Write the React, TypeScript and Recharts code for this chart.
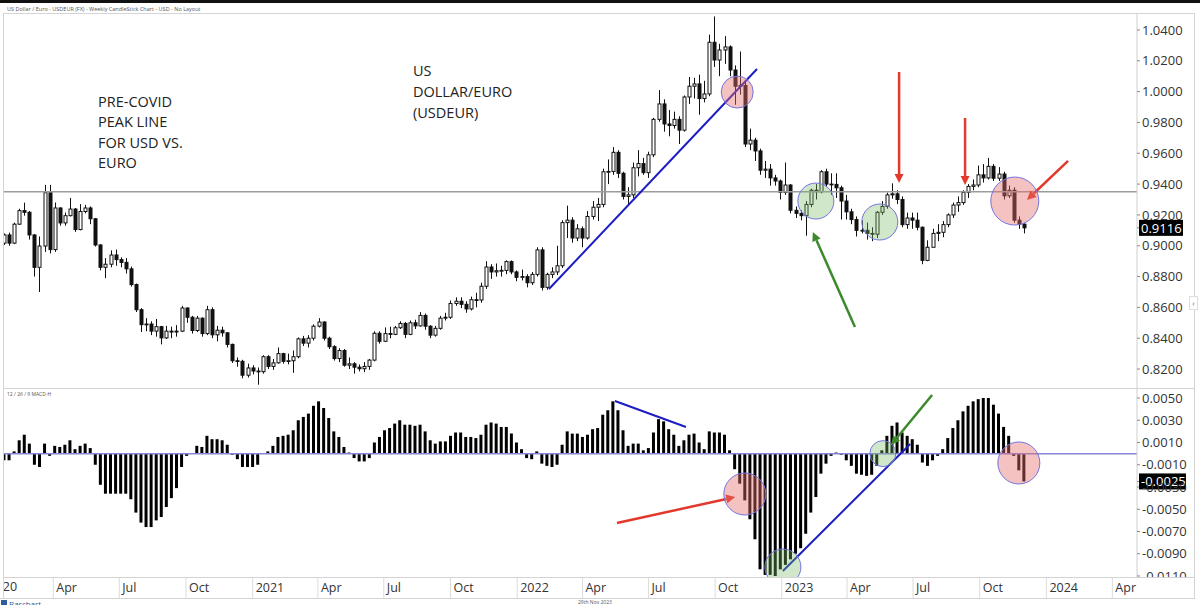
import React from 'react';
import { ComposedChart, Bar, XAxis, YAxis, ReferenceLine, ReferenceDot } from 'recharts';

const DAY = 86400000;
const WEEK = 7 * DAY;
const firstWeek = Date.UTC(2020, 0, 24);
const xMin = firstWeek;
const xMax = firstWeek + 1563 * DAY;

// weekly USD/EUR candles, Jan 24 2020 .. Dec 1 2023
const opens = [
  0.9017, 0.9070, 0.9017, 0.9140, 0.9228, 0.9217, 0.9070, 0.8860, 0.8998, 0.9344,
  0.8975, 0.9245, 0.9148, 0.9195, 0.9238, 0.9105, 0.9222, 0.9245, 0.9175, 0.9005,
  0.8860, 0.8880, 0.8940, 0.8910, 0.8892, 0.8850, 0.8748, 0.8585, 0.8488, 0.8492,
  0.8446, 0.8475, 0.8402, 0.8446, 0.8440, 0.8446, 0.8596, 0.8536, 0.8450, 0.8530,
  0.8430, 0.8585, 0.8422, 0.8452, 0.8435, 0.8360, 0.8254, 0.8250, 0.8160, 0.8207,
  0.8187, 0.8183, 0.8280, 0.8217, 0.8240, 0.8300, 0.8250, 0.8254, 0.8280, 0.8396,
  0.8368, 0.8400, 0.8478, 0.8505, 0.8400, 0.8345, 0.8268, 0.8320, 0.8225, 0.8234,
  0.8212, 0.8202, 0.8217, 0.8258, 0.8432, 0.8380, 0.8430, 0.8425, 0.8468, 0.8496,
  0.8425, 0.8500, 0.8480, 0.8548, 0.8478, 0.8420, 0.8464, 0.8530, 0.8536, 0.8625,
  0.8640, 0.8620, 0.8590, 0.8650, 0.8648, 0.8737, 0.8862, 0.8830, 0.8838, 0.8840,
  0.8897, 0.8830, 0.8795, 0.8800, 0.8760, 0.8814, 0.8973, 0.8730, 0.8814, 0.8830,
  0.8870, 0.9150, 0.9166, 0.9050, 0.9110, 0.9050, 0.9190, 0.9250, 0.9268, 0.9480,
  0.9482, 0.9606, 0.9470, 0.9320, 0.9330, 0.9506, 0.9533, 0.9474, 0.9590, 0.9820,
  0.9920, 0.9790, 0.9780, 0.9820, 0.9750, 0.9965, 1.0035, 1.0050, 0.9955, 0.9985,
  1.0320, 1.0205, 1.0270, 1.0290, 1.0140, 1.0035, 1.0040, 0.9660, 0.9685, 0.9615,
  0.9490, 0.9497, 0.9440, 0.9420, 0.9346, 0.9394, 0.9230, 0.9210, 0.9195, 0.9268,
  0.9360, 0.9350, 0.9480, 0.9400, 0.9398, 0.9376, 0.9290, 0.9220, 0.9170, 0.9100,
  0.9100, 0.9080, 0.9075, 0.9217, 0.9255, 0.9330, 0.9337, 0.9300, 0.9137, 0.9180,
  0.9166, 0.9120, 0.8905, 0.8990, 0.9080, 0.9087, 0.9137, 0.9200, 0.9264, 0.9280,
  0.9346, 0.9385, 0.9394, 0.9460, 0.9440, 0.9515, 0.9438, 0.9465, 0.9324, 0.9360,
  0.9166, 0.9140,
];

const highs = [
  0.9080, 0.9085, 0.9150, 0.9240, 0.9280, 0.9225, 0.9075, 0.9060, 0.9395, 0.9395,
  0.9280, 0.9250, 0.9215, 0.9310, 0.9245, 0.9270, 0.9265, 0.9255, 0.9180, 0.9010,
  0.8920, 0.8970, 0.8975, 0.8925, 0.8920, 0.8865, 0.8755, 0.8595, 0.8530, 0.8510,
  0.8525, 0.8480, 0.8480, 0.8475, 0.8485, 0.8610, 0.8600, 0.8545, 0.8545, 0.8535,
  0.8610, 0.8600, 0.8480, 0.8475, 0.8440, 0.8365, 0.8275, 0.8260, 0.8235, 0.8225,
  0.8210, 0.8290, 0.8290, 0.8265, 0.8340, 0.8305, 0.8300, 0.8320, 0.8405, 0.8415,
  0.8420, 0.8490, 0.8530, 0.8510, 0.8410, 0.8355, 0.8335, 0.8330, 0.8275, 0.8245,
  0.8230, 0.8245, 0.8265, 0.8445, 0.8445, 0.8470, 0.8475, 0.8480, 0.8510, 0.8505,
  0.8515, 0.8520, 0.8570, 0.8560, 0.8485, 0.8480, 0.8545, 0.8565, 0.8645, 0.8665,
  0.8665, 0.8640, 0.8670, 0.8695, 0.8760, 0.8900, 0.8880, 0.8885, 0.8870, 0.8905,
  0.8905, 0.8840, 0.8845, 0.8815, 0.8830, 0.8990, 0.8990, 0.8825, 0.8860, 0.9000,
  0.9165, 0.9260, 0.9185, 0.9140, 0.9125, 0.9225, 0.9290, 0.9310, 0.9500, 0.9560,
  0.9640, 0.9620, 0.9480, 0.9380, 0.9540, 0.9620, 0.9570, 0.9610, 0.9830, 1.0010,
  0.9950, 0.9880, 0.9870, 0.9840, 0.9975, 1.0095, 1.0090, 1.0110, 1.0070, 1.0370,
  1.0488, 1.0310, 1.0360, 1.0300, 1.0170, 1.0260, 1.0070, 0.9760, 0.9700, 0.9630,
  0.9550, 0.9530, 0.9460, 0.9430, 0.9540, 0.9400, 0.9255, 0.9230, 0.9290, 0.9370,
  0.9400, 0.9490, 0.9500, 0.9470, 0.9470, 0.9390, 0.9330, 0.9240, 0.9190, 0.9165,
  0.9150, 0.9120, 0.9225, 0.9290, 0.9345, 0.9405, 0.9360, 0.9320, 0.9215, 0.9215,
  0.9215, 0.9125, 0.9035, 0.9110, 0.9140, 0.9160, 0.9210, 0.9280, 0.9320, 0.9360,
  0.9400, 0.9430, 0.9520, 0.9530, 0.9570, 0.9530, 0.9510, 0.9480, 0.9390, 0.9380,
  0.9190, 0.9145,
];

const lows = [
  0.9005, 0.9000, 0.9010, 0.9135, 0.9195, 0.9040, 0.8800, 0.8700, 0.8960, 0.8950,
  0.8960, 0.9130, 0.9130, 0.9190, 0.9090, 0.9100, 0.9210, 0.9140, 0.8995, 0.8840,
  0.8790, 0.8860, 0.8870, 0.8860, 0.8820, 0.8735, 0.8570, 0.8440, 0.8445, 0.8420,
  0.8410, 0.8360, 0.8395, 0.8400, 0.8410, 0.8440, 0.8500, 0.8430, 0.8440, 0.8410,
  0.8420, 0.8400, 0.8380, 0.8410, 0.8340, 0.8240, 0.8215, 0.8140, 0.8145, 0.8165,
  0.8098, 0.8170, 0.8200, 0.8195, 0.8235, 0.8235, 0.8230, 0.8175, 0.8270, 0.8350,
  0.8340, 0.8385, 0.8470, 0.8385, 0.8330, 0.8255, 0.8245, 0.8215, 0.8200, 0.8170,
  0.8185, 0.8180, 0.8195, 0.8250, 0.8365, 0.8375, 0.8400, 0.8420, 0.8460, 0.8400,
  0.8420, 0.8460, 0.8475, 0.8455, 0.8400, 0.8410, 0.8455, 0.8515, 0.8525, 0.8610,
  0.8595, 0.8565, 0.8580, 0.8600, 0.8630, 0.8720, 0.8785, 0.8800, 0.8800, 0.8815,
  0.8815, 0.8770, 0.8775, 0.8730, 0.8745, 0.8800, 0.8710, 0.8715, 0.8790, 0.8810,
  0.8855, 0.9050, 0.9020, 0.9030, 0.8990, 0.9040, 0.9170, 0.9160, 0.9250, 0.9400,
  0.9460, 0.9440, 0.9300, 0.9270, 0.9310, 0.9450, 0.9460, 0.9440, 0.9575, 0.9805,
  0.9740, 0.9710, 0.9760, 0.9660, 0.9740, 0.9920, 0.9955, 0.9850, 0.9930, 0.9970,
  1.0160, 1.0100, 1.0180, 1.0100, 0.9915, 0.9980, 0.9640, 0.9620, 0.9550, 0.9460,
  0.9440, 0.9390, 0.9390, 0.9300, 0.9330, 0.9210, 0.9180, 0.9165, 0.9065, 0.9250,
  0.9300, 0.9340, 0.9380, 0.9330, 0.9310, 0.9170, 0.9170, 0.9140, 0.9060, 0.9080,
  0.9040, 0.9030, 0.9050, 0.9200, 0.9240, 0.9305, 0.9270, 0.9120, 0.9110, 0.9110,
  0.9100, 0.8880, 0.8900, 0.8990, 0.9030, 0.9055, 0.9120, 0.9180, 0.9220, 0.9265,
  0.9310, 0.9360, 0.9380, 0.9410, 0.9430, 0.9420, 0.9420, 0.9300, 0.9310, 0.9150,
  0.9110, 0.9080,
];

const closes = [
  0.9070, 0.9017, 0.9140, 0.9228, 0.9217, 0.9070, 0.8860, 0.8998, 0.9344, 0.8975,
  0.9245, 0.9148, 0.9195, 0.9238, 0.9105, 0.9222, 0.9245, 0.9175, 0.9005, 0.8860,
  0.8880, 0.8940, 0.8910, 0.8892, 0.8850, 0.8748, 0.8585, 0.8488, 0.8492, 0.8446,
  0.8475, 0.8402, 0.8446, 0.8440, 0.8446, 0.8596, 0.8536, 0.8450, 0.8530, 0.8430,
  0.8585, 0.8422, 0.8452, 0.8435, 0.8360, 0.8254, 0.8250, 0.8160, 0.8207, 0.8187,
  0.8183, 0.8280, 0.8217, 0.8240, 0.8300, 0.8250, 0.8254, 0.8280, 0.8396, 0.8368,
  0.8400, 0.8478, 0.8505, 0.8400, 0.8345, 0.8268, 0.8320, 0.8225, 0.8234, 0.8212,
  0.8202, 0.8217, 0.8258, 0.8432, 0.8380, 0.8430, 0.8425, 0.8468, 0.8496, 0.8425,
  0.8500, 0.8480, 0.8548, 0.8478, 0.8420, 0.8464, 0.8530, 0.8536, 0.8625, 0.8640,
  0.8620, 0.8590, 0.8650, 0.8648, 0.8737, 0.8862, 0.8830, 0.8838, 0.8840, 0.8897,
  0.8830, 0.8795, 0.8800, 0.8760, 0.8814, 0.8973, 0.8730, 0.8814, 0.8830, 0.8870,
  0.9150, 0.9166, 0.9050, 0.9110, 0.9050, 0.9190, 0.9250, 0.9268, 0.9480, 0.9482,
  0.9606, 0.9470, 0.9320, 0.9330, 0.9506, 0.9533, 0.9474, 0.9590, 0.9820, 0.9920,
  0.9790, 0.9780, 0.9820, 0.9750, 0.9965, 1.0035, 1.0050, 0.9955, 0.9985, 1.0320,
  1.0205, 1.0270, 1.0290, 1.0140, 1.0035, 1.0040, 0.9660, 0.9685, 0.9615, 0.9490,
  0.9497, 0.9440, 0.9420, 0.9346, 0.9394, 0.9230, 0.9210, 0.9195, 0.9268, 0.9360,
  0.9350, 0.9480, 0.9400, 0.9398, 0.9376, 0.9290, 0.9220, 0.9170, 0.9100, 0.9100,
  0.9080, 0.9075, 0.9217, 0.9255, 0.9330, 0.9337, 0.9300, 0.9137, 0.9180, 0.9166,
  0.9120, 0.8905, 0.8990, 0.9080, 0.9087, 0.9137, 0.9200, 0.9264, 0.9280, 0.9346,
  0.9385, 0.9394, 0.9460, 0.9440, 0.9515, 0.9438, 0.9465, 0.9324, 0.9360, 0.9166,
  0.9140, 0.9116,
];

// 12/26/9 MACD histogram, same weeks
const macdHist = [
  -0.0006, -0.0006, 0.0002, 0.0012, 0.0017, 0.0009, -0.0010, -0.0012, 0.0009, -0.0002,
  0.0007, 0.0006, 0.0008, 0.0012, 0.0004, 0.0007, 0.0009, 0.0005, -0.0010, -0.0028,
  -0.0036, -0.0036, -0.0036, -0.0036, -0.0036, -0.0041, -0.0053, -0.0062, -0.0066, -0.0066,
  -0.0060, -0.0057, -0.0048, -0.0040, -0.0031, -0.0012, -0.0002, 0.0000, 0.0007, 0.0006,
  0.0016, 0.0013, 0.0013, 0.0012, 0.0008, -0.0001, -0.0005, -0.0012, -0.0012, -0.0012,
  -0.0010, 0.0000, 0.0002, 0.0007, 0.0015, 0.0016, 0.0017, 0.0021, 0.0030, 0.0033,
  0.0036, 0.0043, 0.0047, 0.0041, 0.0032, 0.0020, 0.0015, 0.0006, 0.0001, -0.0004,
  -0.0007, -0.0007, -0.0004, 0.0010, 0.0015, 0.0021, 0.0023, 0.0027, 0.0030, 0.0026,
  0.0026, 0.0025, 0.0026, 0.0020, 0.0012, 0.0009, 0.0011, 0.0011, 0.0016, 0.0019,
  0.0019, 0.0015, 0.0015, 0.0014, 0.0017, 0.0026, 0.0028, 0.0027, 0.0024, 0.0024,
  0.0018, 0.0010, 0.0004, -0.0004, -0.0005, 0.0002, -0.0009, -0.0011, -0.0012, -0.0010,
  0.0008, 0.0020, 0.0018, 0.0018, 0.0015, 0.0017, 0.0022, 0.0023, 0.0035, 0.0039,
  0.0047, 0.0039, 0.0021, 0.0007, 0.0009, 0.0009, 0.0003, 0.0005, 0.0019, 0.0031,
  0.0029, 0.0022, 0.0017, 0.0007, 0.0012, 0.0017, 0.0018, 0.0010, 0.0004, 0.0020,
  0.0019, 0.0019, 0.0017, 0.0003, -0.0014, -0.0027, -0.0042, -0.0059, -0.0077, -0.0104,
  -0.0109, -0.0109, -0.0110, -0.0104, -0.0100, -0.0095, -0.0090, -0.0085, -0.0072, -0.0053,
  -0.0039, -0.0018, -0.0009, -0.0002, 0.0001, -0.0001, -0.0006, -0.0011, -0.0018, -0.0019,
  -0.0020, -0.0019, -0.0011, 0.0003, 0.0016, 0.0025, 0.0028, 0.0019, 0.0016, 0.0013,
  0.0008, -0.0008, -0.0011, -0.0006, -0.0002, 0.0004, 0.0014, 0.0023, 0.0030, 0.0038,
  0.0043, 0.0047, 0.0049, 0.0050, 0.0050, 0.0044, 0.0036, 0.0024, 0.0016, -0.0002,
  -0.0015, -0.0025,
];

const priceTicks = [0.82, 0.84, 0.86, 0.88, 0.9, 0.92, 0.94, 0.96, 0.98, 1.0, 1.02, 1.04];
const macdTicks = [0.005, 0.003, 0.001, -0.001, -0.003, -0.005, -0.007, -0.009, -0.011];
const monthNames = ['Jan', 'Feb', 'Mar', 'Apr', 'May', 'Jun', 'Jul', 'Aug', 'Sep', 'Oct', 'Nov', 'Dec'];
const quarterTicks: number[] = [];
for (let y = 2020; y <= 2024; y++) {
  for (const m of [0, 3, 6, 9]) {
    const t = Date.UTC(y, m, 1);
    if (t >= xMin && t <= xMax) quarterTicks.push(t);
  }
}

const peakLine = 0.935;

const candles = closes.map((close, i) => ({
  t: firstWeek + i * WEEK,
  open: opens[i],
  high: highs[i],
  low: lows[i],
  close,
  macd: macdHist[i],
}));

// annotation anchors in (week index, value)
const at = (w: number) => firstWeek + w * WEEK;
const RED = '#e3392c';
const GREEN = '#3c8a2c';
const BLUE = '#1d1dc4';
const PINK_FILL = 'rgba(232,110,110,0.42)';
const GREEN_FILL = 'rgba(120,190,100,0.35)';
const RING = '#7474e0';

const priceCircles = [
  { w: 144.5, v: 0.9997, r: 16, fill: PINK_FILL },
  { w: 160.0, v: 0.929, r: 18, fill: GREEN_FILL },
  { w: 172.6, v: 0.9154, r: 18, fill: GREEN_FILL },
  { w: 199.2, v: 0.929, r: 24, fill: PINK_FILL },
];
const priceArrows = [
  { a: [176.4, 1.0127], b: [176.4, 0.9407], color: RED },
  { a: [189.4, 0.9829], b: [189.4, 0.9394], color: RED },
  { a: [209.7, 0.955], b: [201.6, 0.9297], color: RED },
  { a: [167.7, 0.8473], b: [159.4, 0.9089], color: GREEN },
];
const priceTrend = [[107.4, 0.8719], [148.4, 1.0147]];

const macdCircles = [
  { w: 146.0, v: -0.00363, r: 21, fill: PINK_FILL },
  { w: 153.5, v: -0.01019, r: 18, fill: GREEN_FILL },
  { w: 173.2, v: 0.0, r: 13, fill: GREEN_FILL },
  { w: 200.0, v: -0.00084, r: 21, fill: PINK_FILL },
];
const macdArrows = [
  { a: [120.8, -0.00624], b: [144.1, -0.0039], color: RED },
  { a: [182.9, 0.00527], b: [174.8, 0.00078], color: GREEN },
];
const macdTrends = [
  [[120.4, 0.00473], [134.4, 0.00239]],
  [[153.5, -0.01055], [178.6, 0.00087]],
];

const Candle = (props: any) => {
  const { x, y, width, height, payload } = props;
  if (!payload) return null;
  const top = Math.min(y, y + height);
  const span = Math.abs(height);
  const { open, close, high, low } = payload;
  const range = high - low || 1e-9;
  const toY = (v: number) => top + ((high - v) / range) * span;
  const cx = Math.round(x + width / 2) + 0.5;
  const up = close >= open;
  const bTop = toY(Math.max(open, close));
  const bBot = toY(Math.min(open, close));
  return (
    <g>
      <line x1={cx} x2={cx} y1={top} y2={top + span} stroke="#111" strokeWidth={1} />
      <rect
        x={cx - 1.5}
        y={bTop}
        width={3}
        height={Math.max(0.8, bBot - bTop)}
        fill={up ? '#fff' : '#111'}
        stroke="#111"
        strokeWidth={1}
      />
    </g>
  );
};

const arrowShape = (color: string) => (p: any) => {
  const { x1, y1, x2, y2 } = p;
  const ang = Math.atan2(y2 - y1, x2 - x1);
  const L = 9;
  const W = 4.5;
  const c = Math.cos(ang);
  const s = Math.sin(ang);
  const bx = x2 - L * c;
  const by = y2 - L * s;
  const pts = `${x2},${y2} ${bx - W * s},${by + W * c} ${bx + W * s},${by - W * c}`;
  return (
    <g>
      <line x1={x1} y1={y1} x2={bx} y2={by} stroke={color} strokeWidth={2.5} />
      <polygon points={pts} fill={color} />
    </g>
  );
};

const lastLabel = (text: string, w: number) => (p: any) => {
  const { cx, cy } = p;
  return (
    <g>
      <line x1={cx} x2={cx + 3} y1={cy} y2={cy} stroke="#888" />
      <rect x={cx + 2} y={cy - 8} width={w} height={16} fill="#000" />
      <text x={cx + 4} y={cy + 4.8} fill="#fff" fontSize={13}>
        {text}
      </text>
    </g>
  );
};

const AxisTick = (props: any) => {
  const { x, payload } = props;
  const d = new Date(payload.value);
  const m = d.getUTCMonth();
  const label = m === 0 ? String(d.getUTCFullYear()) : monthNames[m];
  return (
    <g>
      <line x1={x} x2={x} y1={188} y2={209} stroke="#dcdcdc" />
      <text x={x + 3} y={203} fontSize={12.5} fill="#333" textAnchor="start">
        {label}
      </text>
    </g>
  );
};

const frame = (left: number, top: number, width: number, height: number, bg = '#d4d4d4') => (
  <div style={{ position: 'absolute', left, top, width, height, background: bg }} />
);

export default function App() {
  const last = candles[candles.length - 1];
  return (
    <div
      style={{
        position: 'absolute',
        left: 0,
        top: 0,
        width: 1200,
        height: 605,
        background: '#fff',
        overflow: 'hidden',
        fontFamily: "'Open Sans', sans-serif",
      }}
    >
      {frame(0, 0, 1200, 2.5, '#111')}
      <div style={{ position: 'absolute', left: 7, top: 4.5, fontSize: 5.5, color: '#555', whiteSpace: 'nowrap' }}>
        US Dollar / Euro - USDEUR (FX) - Weekly CandleStick Chart - USD - No Layout
      </div>

      <div style={{ position: 'absolute', left: 0, top: 0 }}>
        <ComposedChart width={1200} height={389} data={candles} margin={{ top: 13, right: 5, bottom: 1, left: 4 }}>
          <XAxis dataKey="t" type="number" domain={[xMin, xMax]} hide allowDataOverflow />
          <YAxis
            orientation="right"
            type="number"
            domain={[0.8077, 1.051]}
            ticks={priceTicks}
            width={58}
            allowDataOverflow
            tickFormatter={(v: number) => v.toFixed(4)}
            tick={{ fontSize: 13, fill: '#333' }}
            tickSize={3}
            tickMargin={2}
            axisLine={{ stroke: '#cfcfcf' }}
            tickLine={{ stroke: '#888' }}
          />
          <ReferenceLine y={peakLine} stroke="#9c9c9c" strokeWidth={1.5} />
          <Bar
            dataKey={(d: any) => [d.low, d.high]}
            barSize={5}
            shape={(p: any) => <Candle {...p} />}
            isAnimationActive={false}
          />
          <ReferenceLine
            segment={priceTrend.map(([w, v]) => ({ x: at(w), y: v }))}
            stroke={BLUE}
            strokeWidth={2}
          />
          {priceCircles.map((c, i) => (
            <ReferenceDot
              key={`pc-${i}`}
              x={at(c.w)}
              y={c.v}
              r={c.r}
              fill={c.fill}
              stroke={RING}
              strokeWidth={1}
            />
          ))}
          {priceArrows.map((a, i) => (
            <ReferenceLine
              key={`pa-${i}`}
              segment={[{ x: at(a.a[0]), y: a.a[1] }, { x: at(a.b[0]), y: a.b[1] }]}
              shape={arrowShape(a.color)}
            />
          ))}
          <ReferenceDot
            x={xMax}
            y={last.close}
            r={0}
            ifOverflow="visible"
            shape={lastLabel(last.close.toFixed(4), 44)}
          />
        </ComposedChart>
      </div>

      <div style={{ position: 'absolute', left: 0, top: 389 }}>
        <ComposedChart width={1200} height={209} data={candles} margin={{ top: 0, right: 5, bottom: 0, left: 4 }}>
          <XAxis
            dataKey="t"
            type="number"
            domain={[xMin, xMax]}
            ticks={quarterTicks}
            interval={0}
            tick={<AxisTick />}
            tickLine={false}
            axisLine={false}
            height={21}
            allowDataOverflow
          />
          <YAxis
            orientation="right"
            type="number"
            domain={[-0.01109, 0.00581]}
            ticks={macdTicks}
            width={58}
            allowDataOverflow
            tickFormatter={(v: number) => v.toFixed(4)}
            tick={{ fontSize: 13, fill: '#333' }}
            tickSize={3}
            tickMargin={2}
            axisLine={{ stroke: '#cfcfcf' }}
            tickLine={{ stroke: '#888' }}
          />
          <ReferenceLine y={0} stroke="#8686d8" strokeWidth={1.5} />
          <Bar dataKey="macd" fill="#000" barSize={3} isAnimationActive={false} />
          {macdTrends.map((s, i) => (
            <ReferenceLine
              key={`mt-${i}`}
              segment={s.map(([w, v]) => ({ x: at(w), y: v }))}
              stroke={BLUE}
              strokeWidth={2}
            />
          ))}
          {macdCircles.map((c, i) => (
            <ReferenceDot
              key={`mc-${i}`}
              x={at(c.w)}
              y={c.v}
              r={c.r}
              fill={c.fill}
              stroke={RING}
              strokeWidth={1}
              ifOverflow="hidden"
            />
          ))}
          {macdArrows.map((a, i) => (
            <ReferenceLine
              key={`ma-${i}`}
              segment={[{ x: at(a.a[0]), y: a.a[1] }, { x: at(a.b[0]), y: a.b[1] }]}
              shape={arrowShape(a.color)}
            />
          ))}
          <ReferenceDot
            x={xMax}
            y={last.macd}
            r={0}
            ifOverflow="visible"
            shape={lastLabel(last.macd.toFixed(4), 47)}
          />
        </ComposedChart>
      </div>

      {/* frame */}
      {frame(4, 13, 1191, 1)}
      {frame(3, 13, 1, 585)}
      {frame(1194, 13, 1, 585)}
      {frame(4, 388, 1191, 1)}
      {frame(4, 577, 1191, 1)}
      {frame(0, 598, 1195, 1)}
      {frame(1138, 578, 56, 19, '#fff')}
      <div
        style={{
          position: 'absolute',
          left: 1189,
          top: 296,
          width: 7,
          height: 12,
          border: '1px solid #ddd',
          background: '#fff',
          fontSize: 8,
          lineHeight: '12px',
          color: '#666',
          textAlign: 'center',
        }}
      >
        ‹
      </div>

      <div style={{ position: 'absolute', left: 4, top: 577, width: 30, height: 21, overflow: 'hidden' }}>
        <div style={{ position: 'absolute', left: -15.5, top: 1, fontSize: 12.5, color: '#333' }}>2020</div>
      </div>

      <div style={{ position: 'absolute', left: 7, top: 391, fontSize: 5, color: '#555', whiteSpace: 'nowrap' }}>
        12 / 26 / 9 MACD-H
      </div>

      <div style={{ position: 'absolute', left: 98, top: 91.5, fontSize: 14.5, lineHeight: '20.5px', color: '#222' }}>
        PRE-COVID
        <br />
        PEAK LINE
        <br />
        FOR USD VS.
        <br />
        EURO
      </div>
      <div style={{ position: 'absolute', left: 413, top: 59.5, fontSize: 14.5, lineHeight: '21px', color: '#222' }}>
        US
        <br />
        DOLLAR/EURO
        <br />
        (USDEUR)
      </div>

      <div style={{ position: 'absolute', left: 1, top: 600, width: 6, height: 6, background: '#2f5d9e' }} />
      <div style={{ position: 'absolute', left: 9, top: 598, fontSize: 8, color: '#2f5d9e' }}>Barchart</div>
      <div style={{ position: 'absolute', left: 578, top: 599, fontSize: 5, color: '#555' }}>29th Nov 2023</div>
    </div>
  );
}
